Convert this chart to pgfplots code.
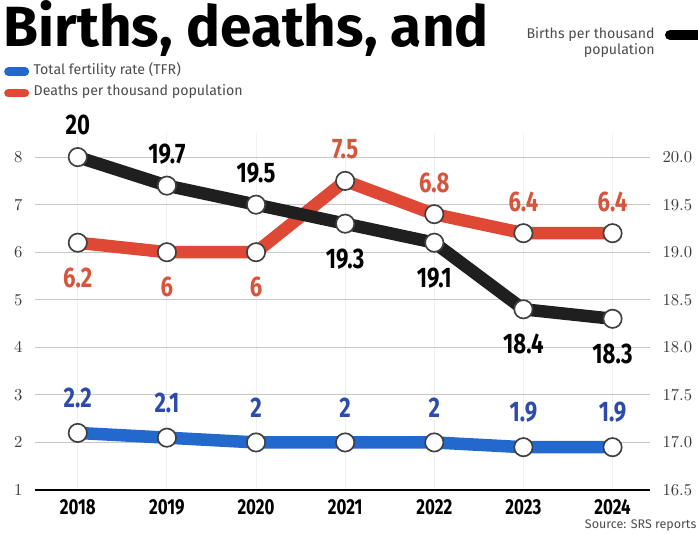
\documentclass[border=0pt]{standalone}
\usepackage{fontspec}
\setmainfont{Fira Sans}
\newfontfamily\cond[FakeStretch=0.78]{Fira Sans}
\usepackage{pgfplots}
\pgfplotsset{compat=1.18}
\definecolor{tfr}{RGB}{35,105,205}
\definecolor{dth}{RGB}{222,72,52}
\definecolor{tfrlab}{RGB}{45,75,170}
\definecolor{dthlab}{RGB}{215,85,60}
\definecolor{gridc}{RGB}{200,200,200}
\definecolor{tickc}{RGB}{60,60,60}
\pgfplotsset{
  base/.style={scale only axis, width=369pt, height=214pt,
    xmin=-0.48, xmax=6.42, at={(0pt,0pt)}, anchor=south west,
    clip=false},
  lab/.style={draw=none, mark=none, nodes near coords, point meta=explicit symbolic,
    visualization depends on={\thisrow{dy} \as \dy},
    nodes near coords style={anchor=center, yshift=\dy pt, font=\cond\fontsize{17}{17}\selectfont\bfseries, text=#1}},
}
\begin{document}
\begin{tikzpicture}
\clip (-21pt,-26.4pt) rectangle (397.8pt,294pt);
\begin{axis}[base,
  ymin=1, ymax=8.5,
  axis x line*=bottom, axis y line*=left,
  y axis line style={draw=none},
  x axis line style={black, line width=1.2pt},
  ytick={1,...,8},
  xtick={0,...,6}, xticklabels={2018,2019,2020,2021,2022,2023,2024},
  xticklabel style={font=\cond\fontsize{13}{13}\selectfont\bfseries, yshift=-2pt},
  yticklabel style={font=\cond\fontsize{10}{10}\selectfont, text=tickc, xshift=-4pt},
  major tick length=0pt,
  ymajorgrids, xmajorgrids,
  y grid style={gridc, line width=0.6pt},
  x grid style={black!6, line width=0.5pt},
]
\addplot[tfr, line width=7.5pt, line cap=round, line join=round, mark=*, mark size=5.5pt,
  mark options={fill=white, draw=black!75, line width=1pt}] table {
x y
0 2.2
1 2.1
2 2.0
3 2.0
4 2.0
5 1.9
6 1.9
};
\addplot[dth, line width=7.5pt, line cap=round, line join=round, mark=*, mark size=5.5pt,
  mark options={fill=white, draw=black!75, line width=1pt}] table {
x y
0 6.2
1 6.0
2 6.0
3 7.5
4 6.8
5 6.4
6 6.4
};
\addplot[lab=tfrlab] table[meta=lab] {
x y lab dy
0 2.2 2.2 21
1 2.1 2.1 21
2 2.0 2 21
3 2.0 2 21
4 2.0 2 21
5 1.9 1.9 21
6 1.9 1.9 21
};
\addplot[lab=dthlab] table[meta=lab] {
x y lab dy
0 6.2 6.2 -21
1 6.0 6 -21
2 6.0 6 -21
3 7.5 7.5 19
4 6.8 6.8 19
5 6.4 6.4 19
6 6.4 6.4 19
};
\end{axis}
\begin{axis}[base,
  ymin=16.5, ymax=20.25,
  axis x line=none, axis y line*=right,
  y axis line style={draw=none},
  ytick={16.5,17,...,20},
  yticklabel style={font=\cond\fontsize{10}{10}\selectfont, text=tickc, xshift=4pt,
    /pgf/number format/.cd, fixed, fixed zerofill, precision=1},
  major tick length=0pt,
]
\addplot[black!88, line width=7.5pt, line cap=round, line join=round, mark=*, mark size=5.5pt,
  mark options={fill=white, draw=black!75, line width=1pt}] table {
x y
0 20.0
1 19.7
2 19.5
3 19.3
4 19.1
5 18.4
6 18.3
};
\addplot[lab=black] table[meta=lab] {
x y lab dy
0 20.0 20 19
1 19.7 19.7 19
2 19.5 19.5 19
3 19.3 19.3 -21
4 19.1 19.1 -21
5 18.4 18.4 -21
6 18.3 18.3 -21
};
\end{axis}
% title and legends
\node[anchor=base west, inner sep=0pt, font=\fontsize{34}{34}\selectfont\bfseries] at (-19pt,266pt) {Births, deaths, and};
\draw[tfr, line width=5pt, line cap=round] (-16pt,251pt) -- (-6pt,251pt);
\node[anchor=west, inner sep=0pt, font=\fontsize{8.5}{8.5}\selectfont, text=black!70] at (-1pt,252pt) {Total fertility rate (TFR)};
\draw[dth, line width=5pt, line cap=round] (-16pt,238pt) -- (-6pt,238pt);
\node[anchor=west, inner sep=0pt, font=\fontsize{8.5}{8.5}\selectfont, text=black!70] at (-1pt,239pt) {Deaths per thousand population};
\node[anchor=north east, align=right, inner sep=0pt, font=\fontsize{8.5}{10}\selectfont, text=black!70] at (372pt,278pt) {Births per thousand\\population};
\draw[black, line width=6pt, line cap=round] (381pt,273pt) -- (398pt,273pt);
\node[anchor=east, inner sep=0pt, font=\fontsize{7.5}{7.5}\selectfont, text=black!70] at (397pt,-21pt) {Source: SRS reports};
\end{tikzpicture}
\end{document}
